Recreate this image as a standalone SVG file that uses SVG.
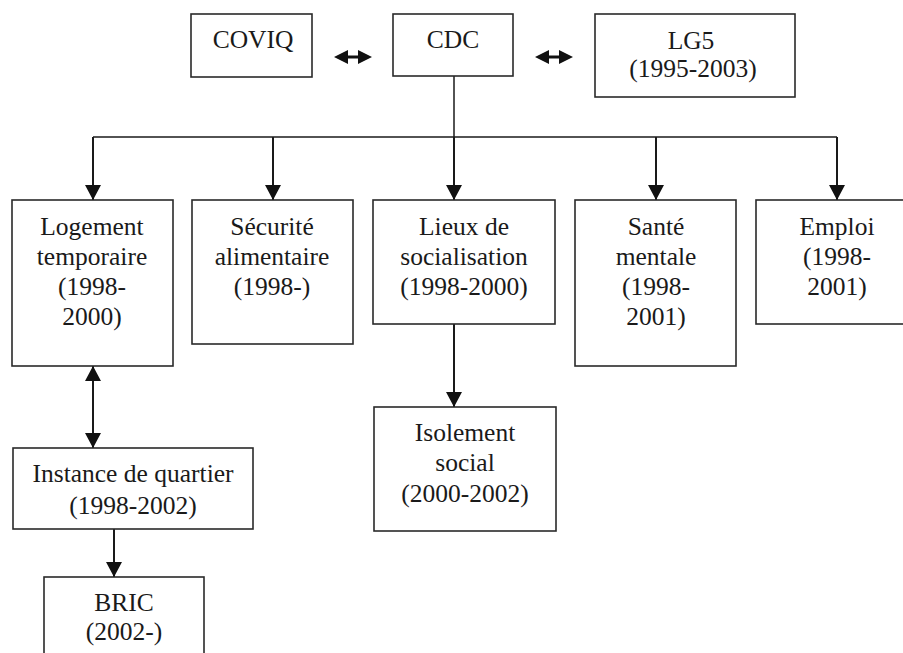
<svg xmlns="http://www.w3.org/2000/svg" width="903" height="653" viewBox="0 0 903 653">
  <style>
    .box { fill: #ffffff; stroke: #2a2a2a; stroke-width: 1.6; }
    .lbl { font-family: "Liberation Serif", "Times New Roman", serif; font-size: 25.5px; fill: #1a1a1a; text-anchor: middle; }
    .wire { fill: none; stroke: #1a1a1a; stroke-width: 2; }
    .thin { fill: none; stroke: #1a1a1a; stroke-width: 1.5; }
    .head { fill: #111111; }
  </style>
  <defs>
    <marker id="arrow" viewBox="0 0 16 16" refX="15" refY="8" markerWidth="16" markerHeight="16" markerUnits="userSpaceOnUse" orient="auto">
      <path d="M0,0 L15,8 L0,16 Z" class="head"/>
    </marker>
    <marker id="arrowStart" viewBox="0 0 16 16" refX="1" refY="8" markerWidth="16" markerHeight="16" markerUnits="userSpaceOnUse" orient="auto">
      <path d="M16,0 L1,8 L16,16 Z" class="head"/>
    </marker>
  </defs>
  <rect width="903" height="653" fill="#ffffff"/>

  <!-- connectors -->
  <g id="connectors">
    <!-- short two-way links on the top row -->
    <path class="head" d="M334,57 L348,50 L348,64 Z"/>
    <path class="head" d="M372,57 L358,50 L358,64 Z"/>
    <line x1="346" y1="57" x2="360" y2="57" stroke="#111" stroke-width="3"/>
    <path class="head" d="M535,57 L549,50 L549,64 Z"/>
    <path class="head" d="M573,57 L559,50 L559,64 Z"/>
    <line x1="547" y1="57" x2="561" y2="57" stroke="#111" stroke-width="3"/>

    <!-- CDC trunk and distribution bar -->
    <line class="thin" x1="454" y1="76" x2="454" y2="137"/>
    <line class="thin" x1="93" y1="137" x2="837" y2="137"/>
    <line class="wire" x1="93" y1="137" x2="93" y2="200" marker-end="url(#arrow)"/>
    <line class="wire" x1="273" y1="137" x2="273" y2="200" marker-end="url(#arrow)"/>
    <line class="wire" x1="454" y1="137" x2="454" y2="200" marker-end="url(#arrow)"/>
    <line class="wire" x1="656" y1="137" x2="656" y2="200" marker-end="url(#arrow)"/>
    <line class="wire" x1="837" y1="137" x2="837" y2="200" marker-end="url(#arrow)"/>

    <!-- lower links -->
    <line class="wire" x1="454" y1="324" x2="454" y2="407" marker-end="url(#arrow)"/>
    <line class="wire" x1="93" y1="366" x2="93" y2="448" marker-start="url(#arrowStart)" marker-end="url(#arrow)"/>
    <line class="wire" x1="114" y1="529" x2="114" y2="577" marker-end="url(#arrow)"/>
  </g>

  <g id="coviq">
    <rect class="box" x="191" y="14" width="121" height="63"/>
    <text class="lbl" x="253" y="48">COVIQ</text>
  </g>
  <g id="cdc">
    <rect class="box" x="393" y="14" width="120" height="62"/>
    <text class="lbl" x="453" y="48">CDC</text>
  </g>
  <g id="lg5">
    <rect class="box" x="595" y="14" width="200" height="83"/>
    <text class="lbl" x="691" y="49">LG5</text>
    <text class="lbl" x="693" y="77">(1995-2003)</text>
  </g>

  <g id="logement">
    <rect class="box" x="12" y="200" width="161" height="166"/>
    <text class="lbl" x="92" y="235">Logement</text>
    <text class="lbl" x="92" y="265">temporaire</text>
    <text class="lbl" x="92" y="295">(1998-</text>
    <text class="lbl" x="92" y="325">2000)</text>
  </g>
  <g id="securite">
    <rect class="box" x="192" y="200" width="161" height="144"/>
    <text class="lbl" x="272" y="235">Sécurité</text>
    <text class="lbl" x="272" y="265">alimentaire</text>
    <text class="lbl" x="272" y="295">(1998-)</text>
  </g>
  <g id="lieux">
    <rect class="box" x="373" y="200" width="182" height="124"/>
    <text class="lbl" x="464" y="235">Lieux de</text>
    <text class="lbl" x="464" y="265">socialisation</text>
    <text class="lbl" x="464" y="295">(1998-2000)</text>
  </g>
  <g id="sante">
    <rect class="box" x="575" y="200" width="161" height="166"/>
    <text class="lbl" x="656" y="235">Santé</text>
    <text class="lbl" x="656" y="265">mentale</text>
    <text class="lbl" x="656" y="295">(1998-</text>
    <text class="lbl" x="656" y="325">2001)</text>
  </g>
  <g id="emploi">
    <rect class="box" x="756" y="200" width="170" height="124"/>
    <text class="lbl" x="837" y="235">Emploi</text>
    <text class="lbl" x="837" y="265">(1998-</text>
    <text class="lbl" x="837" y="295">2001)</text>
  </g>

  <g id="isolement">
    <rect class="box" x="374" y="407" width="182" height="124"/>
    <text class="lbl" x="465" y="441">Isolement</text>
    <text class="lbl" x="465" y="471">social</text>
    <text class="lbl" x="465" y="502">(2000-2002)</text>
  </g>
  <g id="instance">
    <rect class="box" x="13" y="448" width="240" height="81"/>
    <text class="lbl" x="133" y="482">Instance de quartier</text>
    <text class="lbl" x="133" y="514">(1998-2002)</text>
  </g>
  <g id="bric">
    <rect class="box" x="44" y="577" width="160" height="100"/>
    <text class="lbl" x="124" y="611">BRIC</text>
    <text class="lbl" x="124" y="640">(2002-)</text>
  </g>
</svg>
